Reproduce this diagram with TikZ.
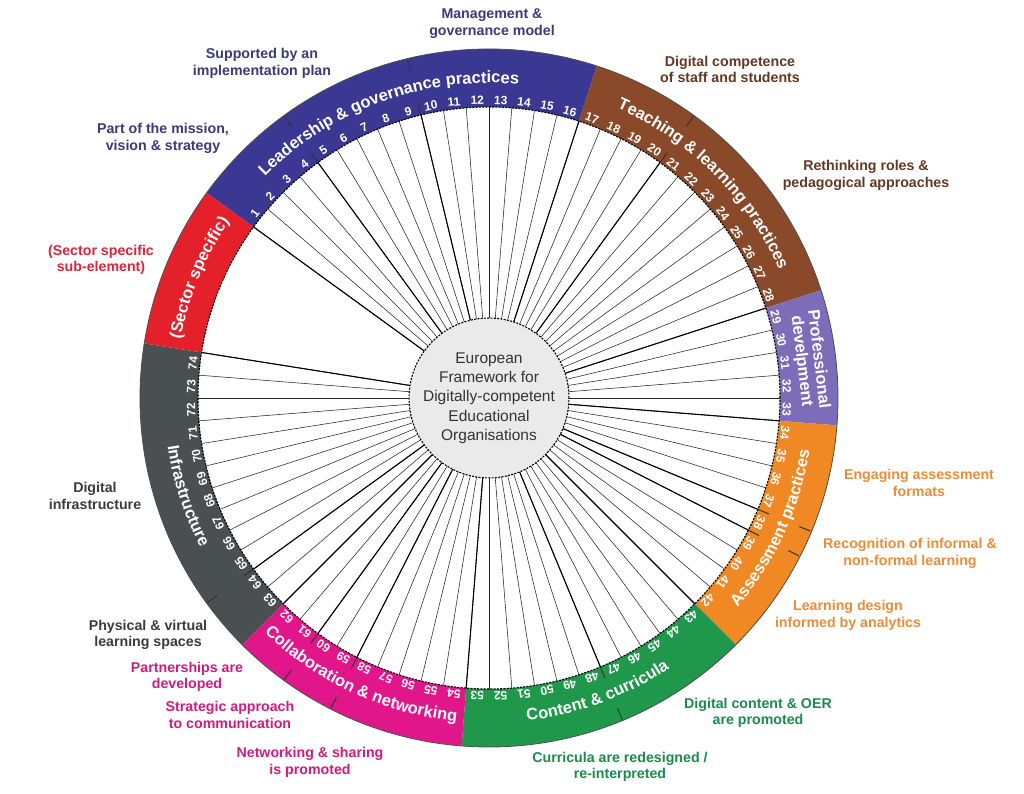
\documentclass[tikz,border=0pt]{standalone}
\usepackage{fontspec}
\setmainfont{Liberation Sans}
\usetikzlibrary{decorations.text}
\definecolor{cLead}{RGB}{59,56,147}
\definecolor{cTeach}{RGB}{138,74,42}
\definecolor{cProf}{RGB}{124,109,186}
\definecolor{cAss}{RGB}{240,136,36}
\definecolor{cCont}{RGB}{31,152,76}
\definecolor{cColl}{RGB}{224,22,138}
\definecolor{cInfra}{RGB}{74,79,82}
\definecolor{cSect}{RGB}{228,33,43}
\definecolor{tLead}{RGB}{60,58,120}
\definecolor{tTeach}{RGB}{100,56,36}
\definecolor{tAss}{RGB}{232,142,58}
\definecolor{tCont}{RGB}{30,138,78}
\definecolor{tColl}{RGB}{208,28,126}
\definecolor{tInfra}{RGB}{60,60,60}
\definecolor{tSect}{RGB}{217,39,58}
\definecolor{centerfill}{RGB}{234,234,234}
\newcommand\titlefont{\color{white}\bfseries\fontsize{16.5}{16.5}\selectfont}
\newcommand\ringsector[3]{\fill[#3] (#1:291pt) arc[start angle=#1, end angle=#2, radius=291pt] -- (#2:349pt) arc[start angle=#2, end angle=#1, radius=349pt] -- cycle;}
\begin{document}
\begin{tikzpicture}[x=1pt,y=1pt,
  lbl/.style={font=\bfseries\fontsize{14.2}{16.5}\selectfont, align=center, inner sep=0pt},
  num/.style={font=\bfseries\fontsize{12}{12}\selectfont, text=white, inner sep=0pt},
  spoke/.style={line width=0.55pt, draw=black!85},
  thickspoke/.style={line width=1.1pt, draw=black},
  tickmark/.style={line width=1pt, draw=black!80},
  dashedring/.style={line width=1.1pt, dash pattern=on 2pt off 1.3pt, draw=black},
  ringtitle/.style={decorate, decoration={text along path, text align=center, text={|\titlefont|#1}}}
]
\useasboundingbox (-489,-396) rectangle (535,398);
\fill[white] (-489,-396) rectangle (535,398);

% ring sectors
\ringsector{144}{72}{cLead}
\ringsector{72}{18}{cTeach}
\ringsector{18}{-4.5}{cProf}
\ringsector{-4.5}{-45}{cAss}
\ringsector{-45}{-94.5}{cCont}
\ringsector{-94.5}{-135}{cColl}
\ringsector{-135}{-189}{cInfra}
\ringsector{171}{144}{cSect}
\draw[line width=0.8pt, black!70] (0,0) circle[radius=349pt];

% spokes
\foreach \j in {0,...,74} {
  \pgfmathsetmacro\b{144-4.5*\j}
  \draw[spoke] (\b:73pt) -- (\b:291pt);
}
\foreach \j in {0,4,9,16,20,28,33,37,38,42,47,53,58,60,62,64,74} {
  \pgfmathsetmacro\b{144-4.5*\j}
  \draw[thickspoke] (\b:73pt) -- (\b:291pt);
}
% sub-element ticks
\foreach \j in {4,9,20,37,38,47,58,60,64} {
  \pgfmathsetmacro\b{144-4.5*\j}
  \draw[tickmark] (\b:291pt) -- (\b:303pt);
  \draw[tickmark] (\b:336pt) -- (\b:348pt);
}
\draw[dashedring] (0,0) circle[radius=291pt];

% numbers
\foreach \k in {1,...,74} {
  \pgfmathsetmacro\a{144-4.5*(\k-0.5)}
  \node[num, rotate=\a-90] (n\k) at (\a:298pt) {\k};
}

% ring titles
\path[ringtitle={Leadership {\&} governance practices}] (150:315pt) arc[start angle=150, end angle=70, radius=315pt];
\path[ringtitle={Teaching {\&} learning practices}] (75:317pt) arc[start angle=75, end angle=15, radius=317pt];
\path[ringtitle={(Sector specific)}] (177:314pt) arc[start angle=177, end angle=138, radius=314pt];
\path[ringtitle={Assessment practices}] (-52:325pt) arc[start angle=-52, end angle=2.5, radius=325pt];
\path[ringtitle={Content {\&} curricula}] (-99:325pt) arc[start angle=-99, end angle=-40.5, radius=325pt];
\path[ringtitle={Collaboration {\&} networking}] (-142:325pt) arc[start angle=-142, end angle=-87.5, radius=325pt];
\path[ringtitle={Infrastructure}] (168:325pt) arc[start angle=168, end angle=228, radius=325pt];
\node[rotate=-83.25, align=center, text=white, inner sep=0pt, font=\bfseries\fontsize{16.5}{17}\selectfont] (prof) at (6.75:323pt) {Professional\\develpment};

% centre
\node[circle, minimum size=146pt, inner sep=0pt, dashedring, fill=centerfill, align=center, text=black!80, font=\fontsize{15.5}{19.3}\selectfont] (centre) at (0,0) {European\\Framework for\\Digitally-competent\\Educational\\Organisations};

% outer labels
\node[lbl, text=tLead] (l1) at (3,374.5) {Management \&\\governance model};
\node[lbl, text=tLead] (l2) at (-227,334.5) {Supported by an\\implementation plan};
\node[lbl, text=tLead] (l3) at (-326,259.5) {Part of the mission,\\vision \& strategy};
\node[lbl, text=tSect] (l4) at (-388,138) {(Sector specific\\sub-element)};
\node[lbl, text=tTeach] (l5) at (241,328.5) {Digital competence\\of staff and students};
\node[lbl, text=tTeach] (l6) at (377,222.5) {Rethinking roles \&\\pedagogical approaches};
\node[lbl, text=tAss] (l7) at (430,-85) {Engaging assessment\\formats};
\node[lbl, text=tAss] (l8) at (421,-155.5) {Recognition of informal \&\\non-formal learning};
\node[lbl, text=tAss] (l9) at (359,-217.5) {Learning design\\informed by analytics};
\node[lbl, text=tCont] (l10) at (269,-315) {Digital content \& OER\\are promoted};
\node[lbl, text=tCont] (l11) at (131,-369) {Curricula are redesigned /\\re-interpreted};
\node[lbl, text=tColl] (l12) at (-179,-364.5) {Networking \& sharing\\is promoted};
\node[lbl, text=tColl] (l13) at (-259,-317) {Strategic approach\\to communication};
\node[lbl, text=tColl] (l14) at (-302,-279) {Partnerships are\\developed};
\node[lbl, text=tInfra] (l15) at (-341,-237) {Physical \& virtual\\learning spaces};
\node[lbl, text=tInfra] (l16) at (-394,-98) {Digital\\infrastructure};
\end{tikzpicture}
\end{document}
